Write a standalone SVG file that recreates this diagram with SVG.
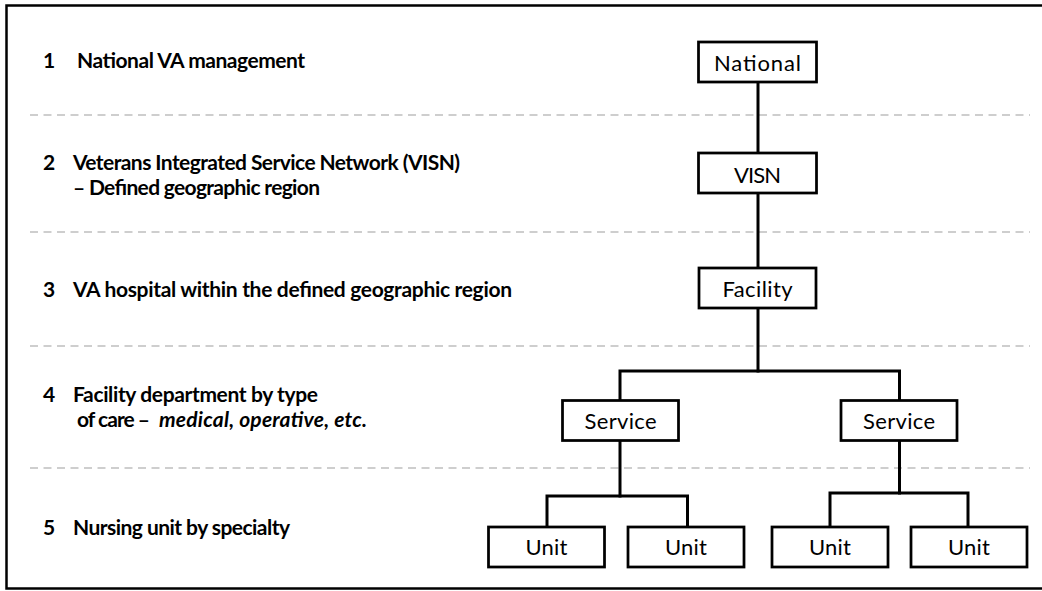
<svg xmlns="http://www.w3.org/2000/svg" width="1042" height="591" viewBox="0 0 1042 591">
  <style>
    .frame { fill: #ffffff; stroke: #000000; stroke-width: 2.5; }
    .sep { stroke: #bfbfbf; stroke-width: 1.6; stroke-dasharray: 8 5.5; fill: none; }
    .box { fill: #ffffff; stroke: #000000; stroke-width: 2.75; }
    .lbl { font-family: Lato, "Open Sans", sans-serif; font-size: 22px; fill: #000000; text-anchor: middle; }
    .lvl { font-family: Lato, "Open Sans", sans-serif; font-size: 21px; font-weight: bold; fill: #000000; }
    .conn { stroke: #000000; stroke-width: 3; fill: none; stroke-linecap: square; }
  </style>
  <rect class="frame" x="6.5" y="5.5" width="1040" height="583"/>
  <g id="separators">
    <line class="sep" x1="30" y1="115" x2="1030" y2="115"/>
    <line class="sep" x1="30" y1="232" x2="1030" y2="232"/>
    <line class="sep" x1="30" y1="346" x2="1030" y2="346"/>
    <line class="sep" x1="30" y1="468" x2="1030" y2="468"/>
  </g>
  <g id="levels">
    <text class="lvl" x="43" y="68">1</text>
    <text class="lvl" x="77" y="68" textLength="228">National VA management</text>
    <text class="lvl" x="43" y="170">2</text>
    <text class="lvl" x="73" y="170" textLength="387">Veterans Integrated Service Network (VISN)</text>
    <text class="lvl" x="73" y="195" textLength="247">– Defined geographic region</text>
    <text class="lvl" x="43" y="297">3</text>
    <text class="lvl" x="73" y="297" textLength="439">VA hospital within the defined geographic region</text>
    <text class="lvl" x="43" y="402">4</text>
    <text class="lvl" x="73" y="402" textLength="245">Facility department by type</text>
    <text class="lvl" x="77" y="427"><tspan textLength="73">of care –</tspan><tspan x="159" font-style="italic" textLength="208">medical, operative, etc.</tspan></text>
    <text class="lvl" x="43" y="535">5</text>
    <text class="lvl" x="73" y="535" textLength="217">Nursing unit by specialty</text>
  </g>
  <g id="connectors">
    <line class="conn" x1="758" y1="82" x2="758" y2="153"/>
    <line class="conn" x1="758" y1="193" x2="758" y2="268"/>
    <line class="conn" x1="758" y1="308" x2="758" y2="371"/>
    <polyline class="conn" points="620,400.5 620,371 899.5,371 899.5,400.5"/>
    <line class="conn" x1="620" y1="440.5" x2="620" y2="496"/>
    <polyline class="conn" points="547,527 547,496 687.5,496 687.5,527"/>
    <line class="conn" x1="899.5" y1="440.5" x2="899.5" y2="493"/>
    <polyline class="conn" points="830,527 830,493 968,493 968,527"/>
  </g>
  <g id="national">
    <rect class="box" x="698.5" y="42" width="118" height="40"/>
    <text class="lbl" x="757.5" y="70.5" textLength="87">National</text>
  </g>
  <g id="visn">
    <rect class="box" x="698.5" y="153" width="118" height="40"/>
    <text class="lbl" x="757.5" y="182.5" textLength="47">VISN</text>
  </g>
  <g id="facility">
    <rect class="box" x="699" y="268" width="117" height="40"/>
    <text class="lbl" x="757.5" y="296.5" textLength="70">Facility</text>
  </g>
  <g id="service-left">
    <rect class="box" x="562.5" y="400.5" width="116" height="40"/>
    <text class="lbl" x="620.5" y="429" textLength="72">Service</text>
  </g>
  <g id="service-right">
    <rect class="box" x="841" y="400.5" width="116" height="40"/>
    <text class="lbl" x="899" y="429" textLength="72">Service</text>
  </g>
  <g id="unit-1">
    <rect class="box" x="488.5" y="527" width="116" height="40"/>
    <text class="lbl" x="546.5" y="555" textLength="42">Unit</text>
  </g>
  <g id="unit-2">
    <rect class="box" x="628" y="527" width="116" height="40"/>
    <text class="lbl" x="686" y="555" textLength="42">Unit</text>
  </g>
  <g id="unit-3">
    <rect class="box" x="772" y="527" width="116" height="40"/>
    <text class="lbl" x="830" y="555" textLength="42">Unit</text>
  </g>
  <g id="unit-4">
    <rect class="box" x="911" y="527" width="116" height="40"/>
    <text class="lbl" x="969" y="555" textLength="42">Unit</text>
  </g>
</svg>
